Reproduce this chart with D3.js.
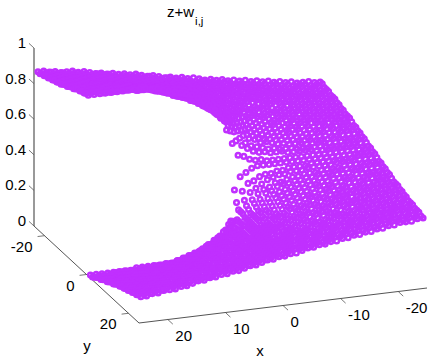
<!DOCTYPE html>
<html><head><meta charset="utf-8">
<style>html,body{margin:0;padding:0;background:#fff}svg{display:block}text{font-family:"Liberation Sans",Arial,sans-serif;fill:#000}</style>
<script src="https://cdn.jsdelivr.net/npm/d3@7"></script></head><body>
<script>
const xTicks=[20,10,0,-10,-20];
const yTicks=[-20,0,20];
const zTicks=[0,20,40,60,80,100];
const zTickLabels=["0","0.2","0.4","0.6","0.8","1"];
const xGrid=[24.5,23.5,22.5,21.5,20.5,19.5,18.5,17.5,16.5,15.5,14.5,13.5,12.5,11.5,10.5,9.5,8.5,7.5,6.5,5.5,4.5,3.5,2.5,1.5,0.5,-0.5,-1.5,-2.5,-3.5,-4.5,-5.5,-6.5,-7.5,-8.5,-9.5,-10.5,-11.5,-12.5,-13.5,-14.5,-15.5,-16.5,-17.5,-18.5,-19.5,-20.5,-21.5,-22.5,-23.5,-24.5];
const yGrid=[-24.5,-23.5,-22.5,-21.5,-20.5,-19.5,-18.5,-17.5,-16.5,-15.5,-14.5,-13.5,-12.5,-11.5,-10.5,-9.5,-8.5,-7.5,-6.5,-5.5,-4.5,-3.5,-2.5,-1.5,-0.5,0.5,1.5,2.5,3.5,4.5,5.5,6.5,7.5,8.5,9.5,10.5,11.5,12.5,13.5,14.5,15.5,16.5,17.5,18.5,19.5,20.5,21.5,22.5,23.5,24.5];
const zGrid=[
[87,87,86,86,85,85,85,84,84,83,82,82,81,81,80,80,79,79,78,77,77,76,75,75,74,74,73,73,72,71,71,70,70,69,69,68,68,67,67,66,66,65,65,64,64,63,63,63,62,62],
[87,87,87,86,86,85,85,84,84,83,83,82,82,81,80,80,79,79,78,78,77,76,76,75,74,74,73,72,72,71,71,70,70,69,68,68,67,67,66,66,65,65,64,64,63,63,63,62,62,62],
[88,87,87,87,86,86,85,85,84,84,83,83,82,81,81,80,80,79,78,78,77,76,76,75,74,73,73,72,72,71,71,70,69,69,68,68,67,66,66,65,65,64,64,63,63,63,62,62,62,61],
[88,88,87,87,87,86,86,85,85,84,83,83,82,82,81,80,80,79,78,78,77,76,76,75,74,73,73,72,72,71,70,70,69,69,68,67,67,66,65,65,64,64,63,63,63,62,62,62,61,61],
[89,88,88,87,87,86,86,85,85,84,84,83,83,82,81,81,80,79,79,78,77,76,76,75,74,73,73,72,71,71,70,70,69,68,68,67,66,66,65,65,64,64,63,63,62,62,61,61,61,61],
[89,89,88,88,87,87,86,86,85,85,84,84,83,82,82,81,80,80,79,78,77,76,76,75,74,73,73,72,71,71,70,69,69,68,67,67,66,65,65,64,64,63,63,62,62,62,61,61,61,60],
[90,89,89,88,88,87,87,86,86,85,85,84,83,83,82,81,81,80,79,78,78,77,76,75,74,73,73,72,71,71,70,69,69,68,67,67,66,65,65,64,64,63,63,62,62,62,61,61,60,60],
[90,90,89,89,88,88,87,87,86,86,85,85,84,83,83,82,81,80,79,79,78,77,76,75,74,73,73,72,71,70,70,69,68,67,67,66,65,64,64,63,63,62,62,62,61,61,61,60,60,60],
[91,90,90,89,89,88,88,87,87,86,86,85,85,84,83,82,81,81,80,79,78,77,76,75,74,73,73,72,71,70,70,69,68,67,67,66,65,64,64,63,63,62,62,61,61,61,60,60,60,59],
[91,91,90,90,90,89,89,88,87,87,86,86,85,84,83,83,82,81,80,79,78,77,76,75,74,73,72,71,71,70,69,68,67,67,66,65,64,64,63,62,62,62,61,61,60,60,60,59,59,59],
[92,91,91,91,90,90,89,89,88,88,87,86,86,85,84,83,82,81,80,80,79,78,76,75,74,73,72,71,70,70,69,68,67,66,65,64,64,63,62,62,61,61,61,60,60,60,59,59,59,58],
[92,92,92,91,91,90,90,89,89,88,88,87,86,85,85,84,83,82,81,80,79,78,77,75,74,73,72,71,70,69,68,67,66,65,65,64,63,62,62,61,61,61,60,60,59,59,59,58,58,58],
[93,93,92,92,92,91,91,90,90,89,88,88,87,86,85,85,83,83,81,80,79,78,77,76,74,73,72,71,70,69,68,67,66,65,64,63,63,62,61,61,60,60,60,59,59,59,58,58,58,57],
[94,93,93,93,92,92,91,91,90,90,89,88,88,87,86,85,84,83,82,81,80,78,77,76,74,73,72,71,69,68,67,66,65,64,63,63,62,61,61,60,60,59,59,59,58,58,58,57,57,57],
[94,94,94,93,93,93,92,92,91,91,90,89,89,88,87,86,85,84,83,81,80,79,77,76,74,73,72,71,69,68,67,65,65,64,63,62,61,61,60,60,59,59,59,58,58,58,57,57,57,57],
[95,95,94,94,94,94,93,93,92,92,91,90,90,89,88,87,86,85,83,82,81,79,78,76,74,73,71,70,69,68,66,65,64,63,62,61,61,60,59,59,59,58,58,58,57,57,57,56,56,56],
[96,95,95,95,95,94,94,93,93,93,92,91,91,90,89,88,87,86,85,83,82,80,78,76,74,73,71,70,68,67,65,64,63,62,61,61,60,59,59,58,58,58,57,57,57,56,56,56,56,55],
[96,96,96,96,95,95,95,94,94,94,93,92,92,91,90,89,88,87,86,84,83,81,79,77,75,73,71,69,68,66,64,63,62,61,60,60,59,58,58,58,57,57,56,56,56,56,55,55,55,55],
[97,97,97,96,96,96,96,95,95,95,94,94,93,92,91,90,89,88,87,85,83,82,79,77,75,73,71,69,67,65,63,62,61,60,59,59,58,58,57,57,56,56,56,56,55,55,55,55,55,54],
[98,98,97,97,97,97,96,96,96,96,95,95,94,94,93,92,91,89,88,86,84,82,80,78,75,73,71,68,66,64,62,61,60,59,58,58,57,57,56,56,55,55,55,55,54,54,54,54,54,54],
[98,98,98,98,98,97,97,97,97,96,96,96,95,95,94,93,92,91,89,87,85,83,80,78,75,72,70,67,65,62,61,59,58,58,57,57,56,56,55,55,55,54,54,54,54,54,53,53,53,53],
[99,99,99,98,98,98,98,98,97,97,97,97,96,96,95,94,93,92,90,88,86,83,81,78,75,72,69,66,63,61,60,58,58,57,56,56,55,55,55,54,54,54,54,53,53,53,53,53,53,53],
[99,99,99,99,99,98,98,98,98,97,97,97,97,96,96,95,94,93,91,89,87,84,81,78,76,71,67,63,60,58,57,56,55,55,54,54,54,53,53,53,53,53,52,52,52,52,52,52,52,52],
[100,100,100,99,99,99,99,99,99,98,98,98,98,97,97,96,96,95,94,93,91,88,85,80,75,69,63,60,58,56,55,55,54,54,54,53,53,53,53,53,52,52,52,52,52,52,52,52,51,51],
[100,100,100,100,100,100,100,100,100,100,100,99,99,98,97,96,95,94,93,91,89,86,83,78,71,63,56,55,53,52,52,51,51,51,51,51,51,51,51,51,51,51,51,51,51,51,51,51,51,51],
[0,0,0,0,0,0,0,0,1,1,1,1,1,1,1,2,2,2,3,3,4,6,8,12,19,38,45,47,49,50,50,50,50,50,50,50,50,50,50,50,50,50,50,50,50,50,50,50,50,50],
[0,0,0,0,1,1,1,1,1,1,1,2,2,2,2,2,3,3,3,4,5,7,10,14,22,32,38,42,43,45,46,46,47,47,48,48,48,48,49,49,49,49,49,49,49,49,50,50,50,50],
[1,1,1,1,1,1,2,2,2,2,2,3,3,3,3,4,4,5,6,7,8,10,13,16,23,29,34,38,40,42,44,45,46,46,47,47,47,48,48,48,48,48,49,49,49,49,49,49,49,49],
[2,2,2,3,3,3,3,3,4,4,4,4,5,5,6,7,8,9,10,12,13,16,19,21,24,29,32,35,38,40,41,43,43,44,45,45,46,46,46,47,47,47,47,48,48,48,48,48,48,48],
[3,3,3,3,3,4,4,4,4,5,5,5,6,6,7,8,9,10,12,14,16,18,21,23,26,29,31,34,36,39,40,42,43,43,44,44,45,45,46,46,46,47,47,47,47,47,48,48,48,48],
[3,3,4,4,4,4,5,5,5,5,6,6,7,7,8,9,10,12,13,15,17,19,21,23,26,28,30,33,35,37,39,40,41,42,43,43,44,44,45,45,46,46,46,46,47,47,47,47,47,47],
[4,4,4,5,5,5,5,6,6,6,7,7,8,9,10,11,12,13,14,16,18,19,22,24,26,28,30,32,34,36,38,39,40,41,42,42,43,43,44,44,45,45,45,45,46,46,46,46,46,47],
[5,5,5,5,6,6,6,7,7,7,8,9,9,10,11,12,13,14,15,17,18,20,22,24,26,28,30,32,33,35,37,38,39,40,41,41,42,43,43,43,44,44,45,45,45,45,46,46,46,46],
[5,6,6,6,6,7,7,8,8,8,9,10,10,11,12,13,14,15,16,18,19,21,23,25,27,28,30,31,33,34,36,37,38,39,40,40,41,42,42,43,43,43,44,44,44,45,45,45,45,46],
[6,6,7,7,7,7,8,8,9,9,10,11,11,12,13,14,15,16,18,19,20,22,23,25,27,28,30,31,32,33,35,36,37,38,39,40,40,41,42,42,42,43,43,43,44,44,44,45,45,45],
[7,7,7,8,8,8,9,9,10,10,11,12,12,13,14,15,16,17,18,20,21,22,24,25,27,28,29,30,32,33,34,36,36,37,38,39,40,40,41,41,42,42,42,43,43,43,44,44,44,44],
[7,8,8,8,9,9,10,10,11,11,12,13,13,14,15,16,17,18,19,20,21,23,24,25,27,28,29,30,32,33,34,35,36,37,38,38,39,40,40,41,41,42,42,42,43,43,43,44,44,44],
[8,8,9,9,9,10,10,11,11,12,13,13,14,15,16,16,18,18,20,21,22,23,24,25,27,28,29,30,31,32,33,34,35,36,37,38,38,39,40,40,41,41,41,42,42,42,43,43,43,44],
[9,9,9,10,10,11,11,12,12,13,13,14,15,16,16,17,18,19,20,21,22,23,24,26,27,28,29,30,31,32,33,34,35,36,36,37,38,39,39,40,40,40,41,41,42,42,42,43,43,43],
[9,10,10,10,11,11,12,12,13,13,14,15,15,16,17,18,19,20,21,21,22,23,25,26,27,28,29,30,31,31,32,33,34,35,36,37,37,38,39,39,40,40,40,41,41,41,42,42,42,43],
[10,10,11,11,11,12,12,13,14,14,15,15,16,17,18,18,19,20,21,22,23,24,25,26,27,28,29,30,30,31,32,33,34,34,35,36,37,37,38,39,39,39,40,40,41,41,41,42,42,42],
[10,11,11,12,12,13,13,14,14,15,15,16,16,17,18,19,20,20,21,22,23,24,25,26,27,28,28,29,30,31,31,32,33,34,34,35,36,37,37,38,38,39,39,40,40,40,41,41,41,42],
[11,11,12,12,13,13,14,14,15,15,16,16,17,18,18,19,20,21,22,22,23,24,25,26,27,28,28,29,30,31,31,32,33,34,34,35,36,37,37,38,38,39,39,39,40,40,40,41,41,41],
[11,12,12,13,13,14,14,15,15,16,16,17,18,18,19,20,20,21,22,23,23,24,25,26,27,28,28,29,30,30,31,32,32,33,34,34,35,36,36,37,37,38,38,39,39,39,40,40,41,41],
[12,12,13,13,14,14,15,15,16,16,17,17,18,19,19,20,21,21,22,23,24,25,25,26,27,28,28,29,30,30,31,32,32,33,34,34,35,36,36,37,37,38,38,39,39,39,40,40,40,41],
[12,13,13,14,14,15,15,16,16,17,17,18,18,19,20,20,21,22,22,23,24,25,25,26,27,28,28,29,30,30,31,31,32,33,33,34,35,35,36,36,37,37,38,38,39,39,40,40,40,40],
[13,13,14,14,14,15,15,16,16,17,18,18,19,19,20,21,21,22,23,23,24,25,25,26,27,28,28,29,29,30,31,31,32,32,33,34,34,35,36,36,37,37,38,38,38,39,39,39,40,40],
[13,14,14,14,15,15,16,16,17,17,18,18,19,20,20,21,21,22,23,23,24,25,25,26,27,28,28,29,29,30,30,31,32,32,33,33,34,35,35,36,36,37,37,38,38,38,39,39,39,40],
[14,14,14,15,15,16,16,17,17,18,18,19,19,20,21,21,22,22,23,23,24,25,25,26,27,27,28,29,29,30,30,31,31,32,33,33,34,34,35,35,36,36,37,37,38,38,38,39,39,39],
[14,14,15,15,16,16,16,17,17,18,19,19,20,20,21,21,22,22,23,24,24,25,26,26,27,27,28,28,29,30,30,31,31,32,32,33,33,34,34,35,35,36,36,37,37,38,38,38,39,39]
];

const W=436,H=360,ox=34,oy=226;
const xToX=d3.scaleLinear().domain([25,-25]).range([0,288]);
const xToY=d3.scaleLinear().domain([25,-25]).range([0,-35]);
const yToX=d3.scaleLinear().domain([-25,25]).range([0,105]);
const yToY=d3.scaleLinear().domain([-25,25]).range([0,97]);
const zToY=d3.scaleLinear().domain([0,100]).range([0,-178]);
const px=(x,y)=>ox+xToX(x)+yToX(y);
const py=(x,y,z)=>oy+xToY(x)+yToY(y)+zToY(z);

const svg=d3.select("body").append("svg").attr("width",W).attr("height",H);
const axisColor="#555";
const line=(a,b,w)=>svg.append("line").attr("x1",px(a[0],a[1])).attr("y1",py(a[0],a[1],a[2])).attr("x2",px(b[0],b[1])).attr("y2",py(b[0],b[1],b[2])).attr("stroke",axisColor).attr("stroke-width",w||1);
line([25,-25,0],[25,-25,100],1.2);
line([25,-25,0],[25,25,0]);
line([25,25,0],[-25,25,0]);
zTicks.forEach(z=>line([25,-27.4,z],[25,-25,z],0.8));
yTicks.forEach(y=>line([26.2,y,0],[25,y,0],0.8));
xTicks.forEach(x=>line([x,25,0],[x,27.4,0],0.8));

const pts=[];
yGrid.forEach((y,j)=>xGrid.forEach((x,i)=>pts.push([x,y,zGrid[j][i]])));
svg.append("g").selectAll("circle").data(pts).join("circle")
 .attr("cx",d=>px(d[0],d[1])).attr("cy",d=>py(d[0],d[1],d[2]))
 .attr("r",2.3).attr("fill","none").attr("stroke","#c030ff").attr("stroke-width",2.5);

const label=(t,x,y,anchor)=>svg.append("text").attr("x",x).attr("y",y).attr("text-anchor",anchor||"middle").attr("font-size",15).text(t);
zTicks.forEach((z,i)=>label(zTickLabels[i],px(25,-25)-8,py(25,-25,z),"end"));
yTicks.forEach(y=>label(String(y),px(25,y)-12,py(25,y,0)+16,"end"));
xTicks.forEach(x=>label(String(x),px(x,25)+7.5,py(x,25,0)+21,"start"));
label("x",260,356);
label("y",87,351);
const t=svg.append("text").attr("x",167).attr("y",17).attr("font-size",15);
t.append("tspan").text("z+w");
t.append("tspan").attr("dx",1).attr("dy",8).attr("font-size",11.5).text("i,j");
</script></body></html>
